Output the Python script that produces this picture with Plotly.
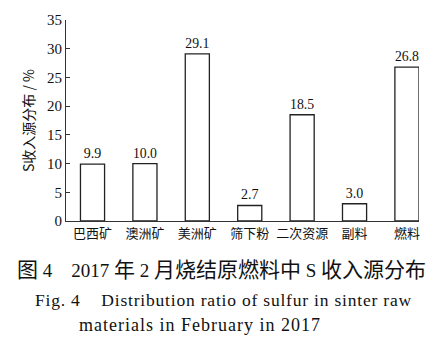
import plotly.graph_objects as go

categories = ["巴西矿", "澳洲矿", "美洲矿", "筛下粉", "二次资源", "副料", "燃料"]
values = [9.9, 10.0, 29.1, 2.7, 18.5, 3.0, 26.8]
labels = ["9.9", "10.0", "29.1", "2.7", "18.5", "3.0", "26.8"]
y_ticks = [0, 5, 10, 15, 20, 25, 30, 35]

serif = "Liberation Serif"
cjk = "Noto Sans CJK SC"

xs = list(range(len(categories)))
fig = go.Figure()
fig.add_trace(go.Bar(
    x=xs, y=values, width=0.46,
    marker=dict(color="white", line=dict(color="#222", width=1.3)),
    text=labels, textposition="outside", cliponaxis=False,
    textfont=dict(family=serif, size=14, color="#111"),
))

fig.update_layout(
    width=443, height=351,
    margin=dict(l=66, r=24, t=12, b=130),
    paper_bgcolor="white", plot_bgcolor="white",
    showlegend=False,
    font=dict(family=serif, color="#111"),
    xaxis=dict(
        range=[-0.506, 6.23], tickmode="array", tickvals=xs, ticktext=categories,
        showline=True, linecolor="#333", linewidth=1.2, ticks="", showgrid=False,
        zeroline=False, tickfont=dict(family=cjk, size=13, color="#111"),
    ),
    yaxis=dict(
        range=[0, 35], tickmode="array", tickvals=y_ticks,
        showline=True, linecolor="#333", linewidth=1.2, ticks="inside", ticklen=4,
        tickcolor="#333", showgrid=False, zeroline=False,
        tickfont=dict(family=serif, size=15, color="#111"),
        title=dict(text="S收入源分布 / %", font=dict(family=cjk, size=14, color="#111"), standoff=9),
    ),
)

cj = '<span style="font-family:Noto Sans CJK SC;font-size:21px">%s</span>'
nm = '<span style="font-family:Liberation Serif;font-size:19px">%s</span>'
cap1 = (cj % "图" + nm % " 4    2017 " + cj % "年" + nm % " 2 " + cj % "月烧结原燃料中"
        + nm % " S " + cj % "收入源分布")
fig.add_annotation(text=cap1, xref="paper", yref="paper", x=0.44, y=-0.148, yanchor="top",
                   xanchor="center", showarrow=False, font=dict(color="#111", family=serif))
fig.add_annotation(
    text='<span style="letter-spacing:0.8px">Fig. 4    Distribution ratio of sulfur in sinter raw</span>',
    xref="paper", yref="paper", x=0.446, y=-0.335, yanchor="top", xanchor="center", showarrow=False,
    font=dict(family=serif, size=17.5, color="#111"))
fig.add_annotation(
    text='<span style="letter-spacing:1px">materials in February in 2017</span>',
    xref="paper", yref="paper", x=0.38, y=-0.458, yanchor="top", xanchor="center", showarrow=False,
    font=dict(family=serif, size=18, color="#111"))

fig.write_html("out.html")
